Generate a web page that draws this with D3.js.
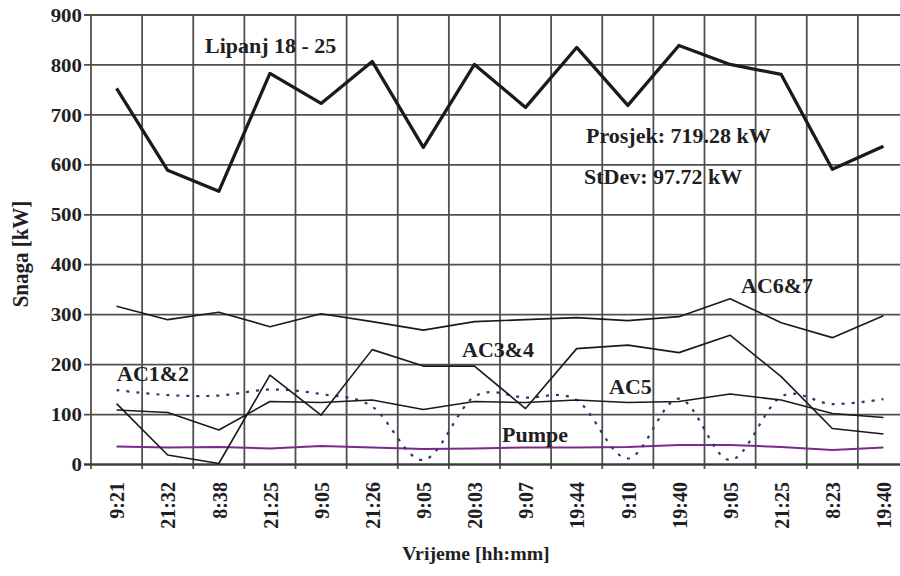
<!DOCTYPE html>
<html>
<head>
<meta charset="utf-8">
<script src="https://cdn.jsdelivr.net/npm/d3@7"></script>
<style>
  body { margin: 0; background: #fff; }
  svg { display: block; }
  text { font-family: "Liberation Serif", "DejaVu Serif", serif; font-weight: bold; fill: #1e1e24; }
</style>
</head>
<body>
<div id="chart"></div>
<script>
// Categories (time of measurement)
const times = ["9:21", "21:32", "8:38", "21:25", "9:05", "21:26", "9:05", "20:03",
  "9:07", "19:44", "9:10", "19:40", "9:05", "21:25", "8:23", "19:40"];

// Series values [kW]
const total = [753, 589, 547, 783, 723, 807, 635, 801, 715, 835, 719, 839, 801, 781, 591, 637];
const ac67 = [317, 290, 305, 276, 302, 286, 269, 286, 290, 294, 288, 296, 332, 284, 254, 298];
const ac34 = [122, 19, 2, 179, 99, 230, 197, 197, 112, 232, 239, 224, 259, 176, 72, 61];
const ac5 = [109, 104, 69, 126, 124, 129, 110, 126, 124, 129, 124, 126, 141, 129, 102, 94];
const ac12 = [149, 139, 138, 150, 141, 116, 9, 136, 134, 129, 12, 132, 9, 136, 121, 131];
const pumpe = [36, 34, 35, 32, 37, 34, 31, 32, 34, 34, 35, 39, 39, 35, 29, 34];

const yTicks = [0, 100, 200, 300, 400, 500, 600, 700, 800, 900];

// Base variables
const w = 900;
const h = 576;
const stretch = 1.1;

const idx = times.map((d, i) => i);

// Scales
const xScale = d3.scaleBand().domain(idx).range([91, 909]);
const yScale = d3.scaleLinear().domain([0, 900]).range([464.5, 15]);
const cx = i => xScale(i) + xScale.bandwidth() / 2;

const svg = d3
  .select("#chart")
  .append("svg")
  .attr("width", w)
  .attr("height", h);

// Grid
const grid = svg.append("g").attr("stroke", "#505050").attr("stroke-width", 1.8);
grid
  .selectAll("line.h")
  .data(yTicks)
  .enter()
  .append("line")
  .attr("x1", 84)
  .attr("x2", w)
  .attr("y1", d => yScale(d))
  .attr("y2", d => yScale(d));
grid
  .selectAll("line.v")
  .data(d3.range(times.length + 1))
  .enter()
  .append("line")
  .attr("x1", i => xScale.range()[0] + i * xScale.bandwidth())
  .attr("x2", i => xScale.range()[0] + i * xScale.bandwidth())
  .attr("y1", yScale(900))
  .attr("y2", yScale(0) + 4.5);

// x axis line
svg
  .append("line")
  .attr("x1", 84)
  .attr("x2", w)
  .attr("y1", yScale(0))
  .attr("y2", yScale(0))
  .attr("stroke", "#3a3a3a")
  .attr("stroke-width", 2);

// y tick labels
svg
  .selectAll("text.ytick")
  .data(yTicks)
  .enter()
  .append("text")
  .attr("text-anchor", "end")
  .attr("dy", "0.35em")
  .style("font-size", "19px")
  .attr("transform", d => `translate(82, ${yScale(d)}) scale(${stretch},1)`)
  .text(d => d);

// x tick labels
svg
  .selectAll("text.xtick")
  .data(idx)
  .enter()
  .append("text")
  .attr("text-anchor", "end")
  .attr("dy", "0.35em")
  .style("font-size", "20px")
  .attr("transform", i => `translate(${cx(i)}, 482) scale(${stretch},1) rotate(-90)`)
  .text(i => times[i]);

// Lines
const line = d3.line().x((d, i) => cx(i)).y(d => yScale(d));
const smooth = d3.line().x((d, i) => cx(i)).y(d => yScale(d)).curve(d3.curveCatmullRom.alpha(0));

const addLine = (data, gen, color, width, dash) =>
  svg
    .append("path")
    .datum(data)
    .attr("d", gen)
    .attr("fill", "none")
    .attr("stroke", color)
    .attr("stroke-width", width)
    .attr("stroke-linejoin", "round")
    .attr("stroke-dasharray", dash || null);

addLine(pumpe, line, "#7b2a8c", 2);
addLine(ac12, smooth, "#2d3778", 2.2, "3,7");
addLine(ac5, line, "#1a1a1a", 1.6);
addLine(ac34, line, "#1a1a1a", 1.6);
addLine(ac67, line, "#1a1a1a", 1.6);
addLine(total, line, "#1a1a1a", 3.3);

// Annotations
const note = (txt, x, y) =>
  svg
    .append("text")
    .style("font-size", "20px")
    .attr("transform", `translate(${x}, ${y}) scale(${stretch},1)`)
    .text(txt);

note("Lipanj 18 - 25", 205, 53);
note("Prosjek: 719.28 kW", 586, 143);
note("StDev: 97.72 kW", 584, 184);
note("AC6&7", 741, 293);
note("AC3&4", 462, 357);
note("AC1&2", 117, 381);
note("AC5", 609, 394);
note("Pumpe", 502, 442);

// Axis titles
svg
  .append("text")
  .attr("text-anchor", "middle")
  .style("font-size", "18px")
  .attr("transform", `translate(476, 560) scale(${stretch},1)`)
  .text("Vrijeme [hh:mm]");

svg
  .append("text")
  .attr("text-anchor", "middle")
  .style("font-size", "21px")
  .attr("transform", `translate(28, 254) scale(${stretch},1) rotate(-90)`)
  .text("Snaga [kW]");
</script>
</body>
</html>
